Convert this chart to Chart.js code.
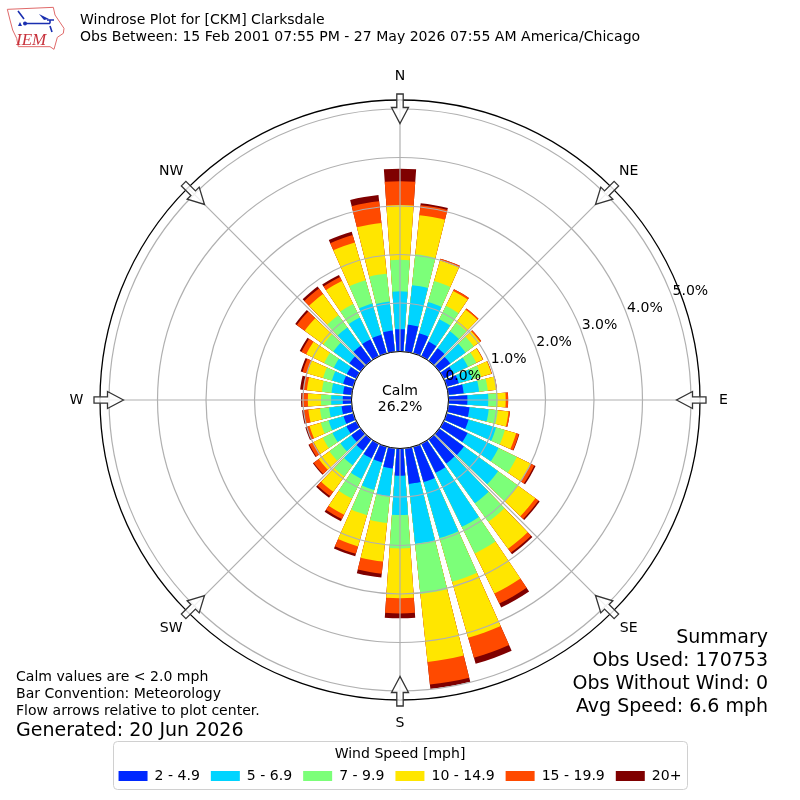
<!DOCTYPE html>
<html><head><meta charset="utf-8">
<script src="https://cdn.jsdelivr.net/npm/chart.js@4"></script>
<style>html,body{margin:0;padding:0;background:#fff}canvas{display:block}</style>
</head><body><canvas id="c" width="800" height="800"></canvas>
<script>
const compass = ['N','NE','E','SE','S','SW','W','NW'];
const directions = [0,10,20,30,40,50,60,70,80,90,100,110,120,130,140,150,160,170,180,190,200,210,220,230,240,250,260,270,280,290,300,310,320,330,340,350];
const speedBins = ['2 - 4.9','5 - 6.9','7 - 9.9','10 - 14.9','15 - 19.9','20+'];
const binColors = ['#0028ff','#00d4ff','#7cff79','#ffe600','#ff4a00','#7f0000'];
const s2to5 = [.46,.56,.43,.34,.32,.28,.23,.26,.32,.39,.44,.47,.55,.63,.62,.67,.76,.74,.56,.42,.34,.34,.29,.24,.23,.21,.21,.18,.18,.22,.22,.29,.38,.39,.40,.44];
const s5to7 = [.78,.82,.67,.51,.43,.39,.33,.29,.32,.43,.40,.59,.71,.87,1.01,1.24,1.20,1.24,.81,.58,.59,.47,.37,.28,.32,.32,.26,.24,.24,.24,.30,.41,.47,.50,.67,.60];
const s7to10 = [.65,.64,.45,.31,.22,.21,.19,.19,.18,.19,.19,.19,.42,.51,.47,.61,.94,1.04,.69,.55,.54,.45,.29,.28,.22,.17,.19,.21,.20,.19,.22,.25,.31,.31,.50,.58];
const s10to15 = [1.13,.81,.44,.34,.33,.16,.15,.22,.18,.17,.22,.24,.32,.44,.69,.92,1.20,1.41,1.03,.80,.67,.37,.39,.27,.21,.24,.24,.27,.31,.34,.41,.48,.54,.53,.81,1.05];
const s15to20 = [.49,.21,.04,.04,.03,.03,.01,.01,.01,.05,.03,.06,.08,.08,.10,.23,.43,.47,.31,.25,.16,.10,.11,.13,.10,.05,.09,.12,.08,.10,.11,.20,.14,.09,.16,.45];
const s20plus = [.26,.04,0,0,0,0,0,0,0,0,0,.01,.03,.03,.04,.09,.13,.09,.10,.08,.05,.05,.04,.02,.02,.04,.04,.02,.06,.04,.04,.04,.05,.05,.07,.13];
const radialTicks = [0,1,2,3,4,5];
const titleLines = ['Windrose Plot for [CKM] Clarksdale','Obs Between: 15 Feb 2001 07:55 PM - 27 May 2026 07:55 AM America/Chicago'];
const notes = ['Calm values are < 2.0 mph','Bar Convention: Meteorology','Flow arrows relative to plot center.'];
const generated = 'Generated: 20 Jun 2026';
const summary = ['Summary','Obs Used: 170753','Obs Without Wind: 0','Avg Speed: 6.6 mph'];
const calm = ['Calm','26.2%'];
const legendTitle = 'Wind Speed [mph]';

const bins = [s2to5,s5to7,s7to10,s10to15,s15to20,s20plus];
const BAR = 8, GAP = 2;
// one leading spacer turns the start back half a bar, so that the N bar is centred on north
const labels = ['']; const angles = [-BAR/2];
directions.forEach(d => { labels.push(d+'°',''); angles.push(BAR,GAP); });
const FONT = 'DejaVu Sans';
const running = directions.map(() => 0);
const stacks = bins.map(b => b.map((v,i) => (running[i] += v, running[i])));
const datasets = stacks.map((st,k) => {
  const data = [null];
  st.forEach(v => data.push(v,null));
  return {label: speedBins[k], data, backgroundColor: binColors[k], borderWidth: 0, angle: angles};
});

const rosePlugin = {
  id:'rose',
  beforeDraw(chart){
    const c = chart.ctx; c.save();
    c.fillStyle='#fff'; c.fillRect(0,0,800,800);
    c.beginPath(); c.roundRect(113.5,741.5,574,48,4);
    c.strokeStyle='#d0d0d0'; c.lineWidth=1; c.stroke();
    c.restore();
  },
  afterDraw(chart){
    const c = chart.ctx, r = chart.scales.r;
    c.save();
    // calm disc
    c.beginPath(); c.arc(r.xCenter,r.yCenter,r.getDistanceFromCenterForValue(0),0,Math.PI*2);
    c.fillStyle='#fff'; c.fill(); c.strokeStyle='#000'; c.lineWidth=1; c.stroke();
    // arrows
    compass.forEach((name,i) => {
      const tip = r.getPointPosition(i,276.5), out = r.getPointPosition(i,306);
      const ux=(out.x-tip.x)/29.5, uy=(out.y-tip.y)/29.5, nx=-uy, ny=ux;
      const pt=(a,b)=>[tip.x+ux*a+nx*b, tip.y+uy*a+ny*b];
      const poly=[pt(0,0),pt(16,8.5),pt(16,3.2),pt(29.5,3.2),pt(29.5,-3.2),pt(16,-3.2),pt(16,-8.5)];
      c.beginPath(); poly.forEach((p,j)=> j? c.lineTo(p[0],p[1]) : c.moveTo(p[0],p[1])); c.closePath();
      c.fillStyle='rgba(255,255,255,.8)'; c.fill(); c.strokeStyle='#333'; c.lineWidth=1.3; c.stroke();
      const lp = r.getPointPosition(i,323.5);
      c.fillStyle='#000'; c.font='14.05px "'+FONT+'"'; c.textAlign='center'; c.textBaseline='middle';
      c.fillText(name,lp.x,lp.y);
    });
    // radial labels
    c.fillStyle='#000'; c.font='14.05px "'+FONT+'"'; c.textAlign='center'; c.textBaseline='middle';
    const la = 69.5*Math.PI/180;
    radialTicks.forEach(t => {
      const d = r.getDistanceFromCenterForValue(t)+19;
      c.fillText(t.toFixed(1)+'%', r.xCenter+d*Math.sin(la), r.yCenter-d*Math.cos(la));
    });
    c.fillText(calm[0],400,391); c.fillText(calm[1],400,407);
    // headers
    c.textAlign='left';
    c.fillText(titleLines[0],80,20); c.fillText(titleLines[1],80,37);
    notes.forEach((n,i)=>c.fillText(n,16,677+i*17));
    c.font='19px "'+FONT+'"'; c.fillText(generated,16,731);
    c.textAlign='right';
    summary.forEach((s,i)=>c.fillText(s,768,638+i*23));
    drawLogo(c);
    c.restore();
  }
};
function drawLogo(c){
  const z=[[22,28],[160,22],[165,45],[192,85],[190,100],[172,112],[162,148],[150,140],[55,140],[50,115],[38,90],[30,60]];
  c.beginPath(); z.forEach((p,i)=> i? c.lineTo(p[0]/3,p[1]/3):c.moveTo(p[0]/3,p[1]/3)); c.closePath();
  c.strokeStyle='#e06a6a'; c.lineWidth=1; c.stroke();
  c.strokeStyle='#1a2fb0'; c.fillStyle='#1a2fb0'; c.lineWidth=1.6;
  c.beginPath(); c.moveTo(25,23.5); c.lineTo(50,23.5); c.moveTo(50,23.5); c.lineTo(50,20); c.moveTo(47,20); c.lineTo(54,20);
  c.moveTo(18,11); c.lineTo(24,19); c.moveTo(50,26); c.lineTo(52,32); c.stroke();
  c.beginPath(); c.arc(25,23.5,2,0,Math.PI*2); c.fill();
  c.beginPath(); c.moveTo(39,14); c.lineTo(49,19); c.lineTo(44,20); c.closePath(); c.fill();
  c.beginPath(); c.moveTo(20,22); c.lineTo(22,26); c.lineTo(18,26); c.closePath(); c.fill();
  c.fillStyle='#c8323c'; c.font='italic 17px "Liberation Serif"'; c.textAlign='left'; c.textBaseline='alphabetic';
  c.fillText('IEM',16,45);
}

new Chart(document.getElementById('c'),{
  type:'polarArea',
  data:{labels,datasets},
  plugins:[rosePlugin],
  options:{
    responsive:false, animation:false, devicePixelRatio:1,
    layout:{padding:{top:100,left:100,right:100,bottom:7}},
    scales:{r:{
      labels:compass, min:-1, max:5.186, startAngle:0,
      ticks:{display:false,stepSize:1},
      pointLabels:{display:false},
      angleLines:{display:true,color:'#b0b0b0',lineWidth:1.2},
      grid:{z:1,circular:true,lineWidth:ctx=>ctx.tick&&ctx.tick.value>5.1?1.3:1.2,color:ctx=>ctx.tick&&ctx.tick.value>5.1?'#000':'#b0b0b0'}
    }},
    plugins:{
      tooltip:{enabled:false},
      title:{display:false},
      legend:{
        display:true, position:'bottom', align:'center',
        title:{display:true,text:legendTitle,color:'#000',font:{family:FONT,size:14.05},padding:{top:46,bottom:-6}},
        labels:{
          color:'#000',font:{family:FONT,size:14.05},boxWidth:29,boxHeight:10,padding:11,
          generateLabels:()=>speedBins.map((t,i)=>({text:t,fillStyle:binColors[i],strokeStyle:binColors[i],lineWidth:0,hidden:false,datasetIndex:i}))
        }
      }
    }
  }
});
</script></body></html>
